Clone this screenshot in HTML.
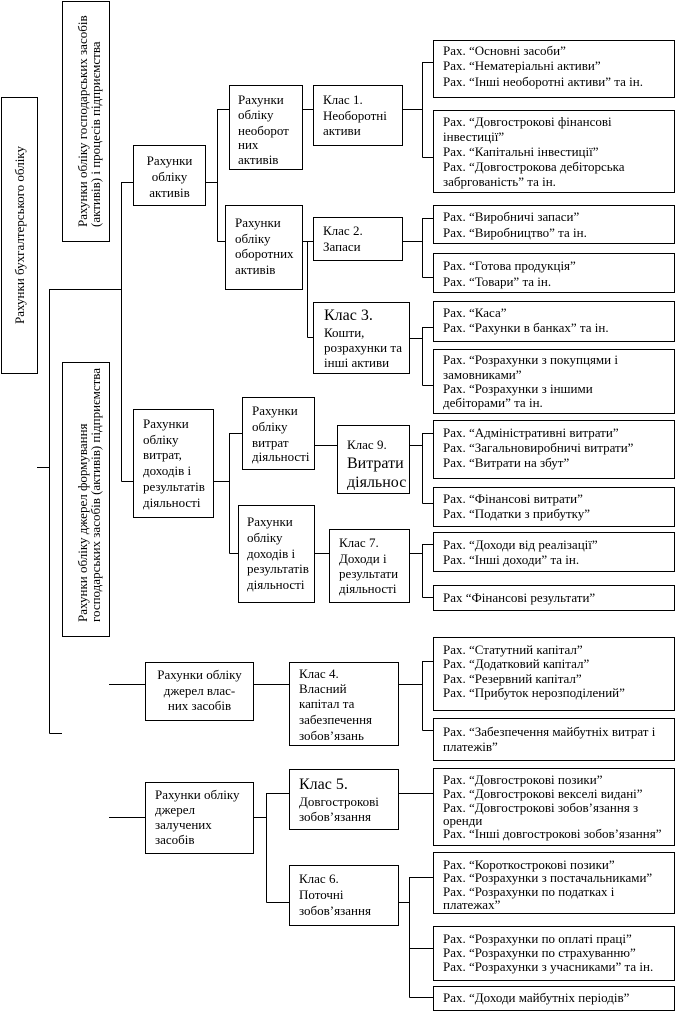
<!DOCTYPE html>
<html><head><meta charset="utf-8">
<style>
html,body{margin:0;padding:0;background:#fff;}
svg{display:block}
text{font-family:"Liberation Serif","DejaVu Serif",serif;font-size:13px;fill:#000}
.b{font-size:16px}
</style></head><body>
<svg width="677" height="1014" viewBox="0 0 677 1014" xmlns="http://www.w3.org/2000/svg">
<rect x="0" y="0" width="677" height="1014" fill="#fff"/>
<g fill="none" stroke="#000" stroke-width="1">
<rect x="1.5" y="97.5" width="36" height="276"/>
<rect x="62.5" y="1.5" width="47" height="240"/>
<rect x="62.5" y="362.5" width="47" height="274"/>
<rect x="133.5" y="145.5" width="72" height="60"/>
<rect x="229.5" y="85.5" width="73" height="84"/>
<rect x="225.5" y="205.5" width="77" height="84"/>
<rect x="313.5" y="85.5" width="89" height="60"/>
<rect x="313.5" y="217.5" width="89" height="43"/>
<rect x="313.5" y="302.5" width="96" height="71"/>
<rect x="133.5" y="409.5" width="80" height="108"/>
<rect x="242.5" y="397.5" width="72" height="72"/>
<rect x="337.5" y="425.5" width="72" height="68"/>
<rect x="238.5" y="505.5" width="76" height="97"/>
<rect x="329.5" y="529.5" width="80" height="73"/>
<rect x="145.5" y="662.5" width="108" height="58"/>
<rect x="289.5" y="662.5" width="109" height="83"/>
<rect x="145.5" y="782.5" width="108" height="71"/>
<rect x="289.5" y="769.5" width="109" height="60"/>
<rect x="289.5" y="865.5" width="109" height="60"/>

<rect x="433.5" y="40.5" width="241" height="57"/>
<rect x="433.5" y="110.5" width="241" height="82"/>
<rect x="433.5" y="205.5" width="241" height="38"/>
<rect x="433.5" y="253.5" width="241" height="39"/>
<rect x="433.5" y="301.5" width="241" height="40"/>
<rect x="433.5" y="349.5" width="241" height="64"/>
<rect x="433.5" y="420.5" width="241" height="58"/>
<rect x="433.5" y="487.5" width="241" height="39"/>
<rect x="433.5" y="532.5" width="241" height="39"/>
<rect x="433.5" y="585.5" width="241" height="25"/>
<rect x="433.5" y="637.5" width="241" height="73"/>
<rect x="433.5" y="718.5" width="241" height="42"/>
<rect x="433.5" y="768.5" width="241" height="77"/>
<rect x="433.5" y="852.5" width="241" height="61"/>
<rect x="433.5" y="926.5" width="241" height="54"/>
<rect x="433.5" y="986.5" width="241" height="24"/>

<path d="M37 467.5H49.5 M49.5 289V733.5 M49.5 733.5H62 M49.5 289.5H121.5
M121.5 182V481.5 M121.5 182.5H133 M121.5 481.5H133
M205 182.5H217.5 M217.5 109V241.5 M217.5 109.5H229 M217.5 241.5H225
M302 109.5H313 M302 241.5H313 M307.5 241V337.5 M307.5 337.5H313
M402 109.5H422.5 M422.5 62V157.5 M422.5 62.5H433 M422.5 157.5H433
M402 241.5H422.5 M422.5 218V277.5 M422.5 218.5H433 M422.5 277.5H433
M409 338.5H422.5 M422.5 327V385.5 M422.5 327.5H433 M422.5 385.5H433
M213 481.5H229.5 M229.5 433V553.5 M229.5 433.5H242 M229.5 553.5H238
M314 445.5H337 M409 445.5H422.5 M422.5 433V503.5 M422.5 433.5H433 M422.5 503.5H433
M314 553.5H329 M409 553.5H422.5 M422.5 544V597.5 M422.5 544.5H433 M422.5 597.5H433
M109 684.5H145 M253 684.5H289 M398 684.5H422.5 M422.5 661V730.5 M422.5 661.5H433 M422.5 730.5H433
M109 817.5H145 M253 817.5H266.5 M266.5 793V902.5 M266.5 793.5H289 M266.5 902.5H289
M398 793.5H433 M398 902.5H409.5 M409.5 877V997.5 M409.5 877.5H433 M409.5 948.5H433 M409.5 997.5H433"/>
</g>

<!-- rotated -->
<text transform="translate(24,235) rotate(-90)" text-anchor="middle">Рахунки бухгалтерського обліку</text>
<text transform="translate(87,227) rotate(-90)">Рахунки обліку господарських засобів</text>
<text transform="translate(100,227) rotate(-90)">(активів) і процесів підприємства</text>
<text transform="translate(87,622) rotate(-90)">Рахунки обліку джерел формування</text>
<text transform="translate(100,622) rotate(-90)">господарських засобів (активів) підприємства</text>

<!-- left/middle boxes -->
<g text-anchor="middle">
<text x="169.5" y="165">Рахунки</text>
<text x="169.5" y="181">обліку</text>
<text x="169.5" y="197">активів</text>
<text x="199.5" y="679">Рахунки обліку</text>
<text x="199.5" y="695">джерел влас-</text>
<text x="199.5" y="710">них засобів</text>
</g>

<text x="238" y="104">Рахунки</text>
<text x="238" y="119">обліку</text>
<text x="238" y="135">необорот</text>
<text x="238" y="149">них</text>
<text x="238" y="164">активів</text>

<text x="235" y="227">Рахунки</text>
<text x="235" y="243">обліку</text>
<text x="235" y="258">оборотних</text>
<text x="235" y="274">активів</text>

<text x="323" y="104">Клас 1.</text>
<text x="323" y="120">Необоротні</text>
<text x="323" y="135">активи</text>

<text x="323" y="235">Клас 2.</text>
<text x="323" y="251">Запаси</text>

<text class="b" x="324" y="320">Клас 3.</text>
<text x="324" y="337">Кошти,</text>
<text x="324" y="352">розрахунки та</text>
<text x="324" y="367">інші активи</text>

<text x="143" y="428">Рахунки</text>
<text x="143" y="444">обліку</text>
<text x="143" y="459">витрат,</text>
<text x="143" y="475">доходів і</text>
<text x="143" y="491">результатів</text>
<text x="143" y="507">діяльності</text>

<text x="252" y="415">Рахунки</text>
<text x="252" y="431">обліку</text>
<text x="252" y="447">витрат</text>
<text x="252" y="461">діяльності</text>

<text x="347" y="449">Клас 9.</text>
<text class="b" x="347" y="468">Витрати</text>
<text class="b" x="347" y="487">діяльнос</text>

<text x="247" y="526">Рахунки</text>
<text x="247" y="542">обліку</text>
<text x="247" y="558">доходів і</text>
<text x="247" y="573">результатів</text>
<text x="247" y="589">діяльності</text>

<text x="339" y="547">Клас 7.</text>
<text x="339" y="563">Доходи і</text>
<text x="339" y="578">результати</text>
<text x="339" y="593">діяльності</text>

<text x="299" y="678">Клас 4.</text>
<text x="299" y="693">Власний</text>
<text x="299" y="708">капітал та</text>
<text x="299" y="724">забезпечення</text>
<text x="299" y="740">зобов’язань</text>

<text x="155" y="799">Рахунки обліку</text>
<text x="155" y="814">джерел</text>
<text x="155" y="829">залучених</text>
<text x="155" y="844">засобів</text>

<text class="b" x="299" y="789">Клас 5.</text>
<text x="299" y="806">Довгострокові</text>
<text x="299" y="821">зобов’язання</text>

<text x="299" y="883">Клас 6.</text>
<text x="299" y="899">Поточні</text>
<text x="299" y="915">зобов’язання</text>

<!-- right boxes -->
<g>
<text x="443" y="55">Рах. “Основні засоби”</text>
<text x="443" y="70">Рах. “Нематеріальні активи”</text>
<text x="443" y="86">Рах. “Інші необоротні активи” та ін.</text>

<text x="443" y="126">Рах. “Довгострокові фінансові</text>
<text x="443" y="141">інвестиції”</text>
<text x="443" y="156">Рах. “Капітальні інвестиції”</text>
<text x="443" y="171">Рах. “Довгострокова дебіторська</text>
<text x="443" y="186">забргованість” та ін.</text>

<text x="443" y="221">Рах. “Виробничі запаси”</text>
<text x="443" y="237">Рах. “Виробництво” та ін.</text>

<text x="443" y="270">Рах. “Готова продукція”</text>
<text x="443" y="286">Рах. “Товари” та ін.</text>

<text x="443" y="317">Рах. “Каса”</text>
<text x="443" y="332">Рах. “Рахунки в банках” та ін.</text>

<text x="443" y="364">Рах. “Розрахунки з покупцями і</text>
<text x="443" y="379">замовниками”</text>
<text x="443" y="393">Рах. “Розрахунки з іншими</text>
<text x="443" y="407">дебіторами” та ін.</text>

<text x="443" y="437">Рах. “Адміністративні витрати”</text>
<text x="443" y="452">Рах. “Загальновиробничі витрати”</text>
<text x="443" y="467">Рах. “Витрати на збут”</text>

<text x="443" y="503">Рах. “Фінансові витрати”</text>
<text x="443" y="518">Рах. “Податки з прибутку”</text>

<text x="443" y="549">Рах. “Доходи від реалізації”</text>
<text x="443" y="564">Рах. “Інші доходи” та ін.</text>

<text x="443" y="602">Рах “Фінансові результати”</text>

<text x="443" y="654">Рах. “Статутний капітал”</text>
<text x="443" y="668">Рах. “Додатковий капітал”</text>
<text x="443" y="683">Рах. “Резервний капітал”</text>
<text x="443" y="697">Рах. “Прибуток нерозподілений”</text>

<text x="443" y="736">Рах. “Забезпечення майбутніх витрат і</text>
<text x="443" y="751">платежів”</text>

<text x="443" y="784">Рах. “Довгострокові позики”</text>
<text x="443" y="798">Рах. “Довгострокові векселі видані”</text>
<text x="443" y="812">Рах. “Довгострокові зобов’язання з</text>
<text x="443" y="825">оренди</text>
<text x="443" y="838">Рах. “Інші довгострокові зобов’язання”</text>

<text x="443" y="869">Рах. “Короткострокові позики”</text>
<text x="443" y="882">Рах. “Розрахунки з постачальниками”</text>
<text x="443" y="896">Рах. “Розрахунки по податках і</text>
<text x="443" y="909">платежах”</text>

<text x="443" y="943">Рах. “Розрахунки по оплаті праці”</text>
<text x="443" y="957">Рах. “Розрахунки по страхуванню”</text>
<text x="443" y="971">Рах. “Розрахунки з учасниками” та ін.</text>

<text x="443" y="1002">Рах. “Доходи майбутніх періодів”</text>
</g>
</svg>
</body></html>
